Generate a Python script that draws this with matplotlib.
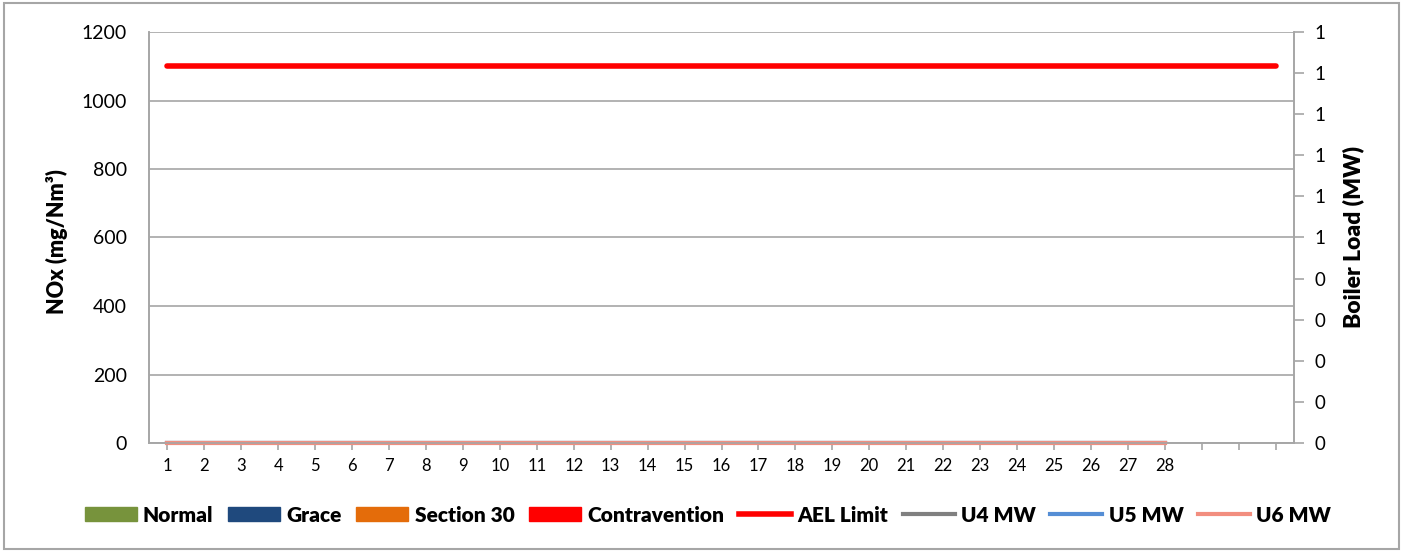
import math
import numpy as np
import matplotlib
matplotlib.use("Agg")
import matplotlib.pyplot as plt
from matplotlib.patches import Patch, Rectangle
from matplotlib.lines import Line2D
from matplotlib.ticker import FuncFormatter, MultipleLocator

plt.rcParams['font.family'] = ['Lato', 'DejaVu Sans']

# Data
days = list(range(1, 32))
day_labels = [str(d) for d in range(1, 29)] + ['', '', '']
normal = [0] * 31
grace = [0] * 31
section30 = [0] * 31
contravention = [0] * 31
ael_limit = [1100] * 31
u4_mw = [0] * 28
u5_mw = [0] * 28
u6_mw = [0] * 28

fig = plt.figure(figsize=(14.03, 5.52), dpi=100)
ax = fig.add_axes([149 / 1403, 1 - 443 / 552, (1294 - 149) / 1403, (443 - 32) / 552])
ax2 = ax.twinx()

# frame round the whole chart
fig.patches.append(Rectangle((4 / 1403, 3 / 552), 1395 / 1403, 546 / 552,
                             transform=fig.transFigure, fill=False,
                             edgecolor='#a6a6a6', linewidth=1.5))

w = 0.2
ax.bar(np.array(days) - 1.5 * w, normal, w, color='#77933C')
ax.bar(np.array(days) - 0.5 * w, grace, w, color='#1F497D')
ax.bar(np.array(days) + 0.5 * w, section30, w, color='#E46C0A')
ax.bar(np.array(days) + 1.5 * w, contravention, w, color='#FF0000')
ax.plot(days, ael_limit, color='#FF0000', linewidth=4, solid_capstyle='round', zorder=5)

ax2.plot(days[:28], u4_mw, color='#808080', linewidth=3)
ax2.plot(days[:28], u5_mw, color='#558ED5', linewidth=3)
ax2.plot(days[:28], u6_mw, color='#F28E7F', linewidth=3, clip_on=False)

ax.set_xlim(0.5, 31.5)
ax.set_ylim(0, 1200)
ax.yaxis.set_major_locator(MultipleLocator(200))
ax.grid(axis='y', color='#a6a6a6', linewidth=1.2)
ax.set_axisbelow(True)
ax.set_xticks(days)
ax.set_xticklabels(day_labels)
ax.tick_params(axis='x', length=5, color='#a6a6a6', width=1.2, labelsize=12, pad=6)
ax.tick_params(axis='y', length=0, labelsize=14, pad=16)

ax2.set_ylim(0, 1)
ax2.yaxis.set_major_locator(MultipleLocator(0.1))
ax2.yaxis.set_major_formatter(FuncFormatter(lambda v, p: str(int(math.floor(v + 0.5 + 1e-9)))))
ax2.tick_params(axis='y', length=7, color='#a6a6a6', width=1.2, labelsize=13.5, pad=8)

for a in (ax, ax2):
    for s in a.spines.values():
        s.set_color('#a6a6a6')
        s.set_linewidth(1.2)
ax.spines['top'].set_visible(False)
ax2.spines['top'].set_visible(False)

ax.set_ylabel('NOx (mg/Nm³)', fontsize=15.5, fontweight='heavy')
ax.yaxis.set_label_coords(-0.071, 0.49)
ax2.set_ylabel('Boiler Load (MW)', fontsize=16.5, fontweight='heavy', labelpad=12)

handles = [
    Patch(color='#77933C', label='Normal'),
    Patch(color='#1F497D', label='Grace'),
    Patch(color='#E46C0A', label='Section 30'),
    Patch(color='#FF0000', label='Contravention'),
    Line2D([], [], color='#FF0000', linewidth=4, label='AEL Limit'),
    Line2D([], [], color='#808080', linewidth=3, label='U4 MW'),
    Line2D([], [], color='#558ED5', linewidth=3, label='U5 MW'),
    Line2D([], [], color='#F28E7F', linewidth=3, label='U6 MW'),
]
fig.legend(handles=handles, loc='center', bbox_to_anchor=(708 / 1403, 1 - 515 / 552),
           ncol=8, frameon=False, prop={'weight': 'heavy', 'size': 15},
           handlelength=2.5, handleheight=0.62, handletextpad=0.3, columnspacing=0.7)

fig.savefig('out.png', dpi=100)
